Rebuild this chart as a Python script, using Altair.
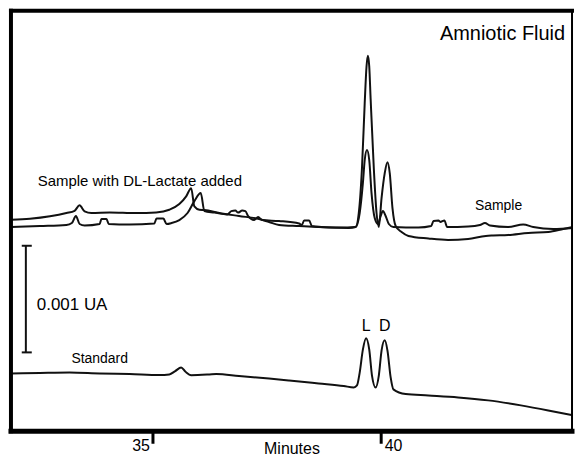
import altair as alt
import pandas as pd

# ---- Data (time in minutes, absorbance in mAU) ----
# Sample with DL-Lactate added
spiked_time = [31.90, 32.31, 32.75, 33.11, 33.29, 33.40, 33.51, 33.66, 34.06, 34.64,
               35.08, 35.37, 35.59, 35.74, 35.85, 35.92, 36.03, 36.14, 36.47, 36.90,
               37.34, 37.56, 37.78, 38.22, 38.65, 39.09, 39.46, 39.53, 39.60, 39.66,
               39.70, 39.73, 39.76, 39.79, 39.86, 39.92, 39.97, 40.03, 40.10, 40.16,
               40.21, 40.27, 40.34, 40.47, 40.62, 41.06, 41.49, 41.93, 42.32, 42.48,
               42.81, 43.25, 43.69, 44.02, 44.23]
spiked_abs = [1.984, 1.993, 2.016, 2.047, 2.068, 2.119, 2.063, 2.047, 2.053, 2.047,
              2.053, 2.078, 2.131, 2.203, 2.280, 2.109, 2.078, 2.075, 2.047, 2.019,
              1.991, 1.963, 1.935, 1.925, 1.916, 1.911, 1.916, 2.047, 2.467, 3.075,
              3.421, 3.521, 3.421, 3.121, 2.467, 2.047, 1.916, 2.187, 2.421, 2.523,
              2.421, 2.093, 1.925, 1.869, 1.832, 1.808, 1.794, 1.804, 1.832, 1.836,
              1.841, 1.860, 1.869, 1.897, 1.916]

# Sample
sample_time = [31.90, 32.53, 33.11, 33.23, 33.32, 33.40, 33.51, 33.84, 33.88, 33.99,
               34.04, 34.50, 35.04, 35.09, 35.24, 35.31, 35.42, 35.59, 35.77, 35.92,
               36.06, 36.14, 36.36, 36.64, 36.73, 36.82, 36.88, 36.97, 37.04, 37.10,
               37.23, 37.32, 37.41, 37.78, 38.22, 38.28, 38.33, 38.44, 38.50, 38.87,
               39.31, 39.46, 39.55, 39.62, 39.66, 39.71, 39.76, 39.81, 39.88, 39.95,
               40.01, 40.06, 40.12, 40.19, 40.29, 40.84, 41.12, 41.17, 41.28, 41.32,
               41.41, 41.47, 41.93, 42.19, 42.30, 42.41, 42.81, 43.14, 43.36, 43.80,
               44.23]
sample_abs = [1.916, 1.925, 1.935, 1.953, 2.019, 1.944, 1.930, 1.944, 1.991, 1.991,
              1.944, 1.939, 1.949, 1.995, 1.995, 1.944, 1.953, 1.981, 2.047, 2.159,
              2.234, 2.065, 2.051, 2.033, 2.065, 2.070, 2.051, 2.070, 2.065, 2.019,
              1.981, 2.009, 1.981, 1.972, 1.949, 1.935, 1.977, 1.977, 1.925, 1.911,
              1.907, 1.916, 2.047, 2.327, 2.542, 2.638, 2.542, 2.234, 2.000, 1.944,
              2.019, 2.065, 2.019, 1.944, 1.916, 1.911, 1.925, 1.972, 1.977, 1.963,
              1.977, 1.916, 1.921, 1.935, 1.953, 1.930, 1.916, 1.939, 1.916, 1.897,
              1.907]

# Standard
standard_time = [31.90, 32.53, 33.18, 33.84, 34.50, 35.15, 35.37, 35.50, 35.63, 35.72,
                 35.85, 36.25, 36.40, 36.90, 37.56, 38.00, 38.65, 39.20, 39.42, 39.49,
                 39.55, 39.62, 39.69, 39.76, 39.82, 39.90, 39.97, 40.03, 40.10, 40.16,
                 40.23, 40.29, 40.56, 41.06, 41.71, 42.37, 43.09, 43.69, 44.23]
standard_abs = [0.542, 0.547, 0.551, 0.542, 0.537, 0.528, 0.533, 0.565, 0.598, 0.561,
                0.526, 0.533, 0.537, 0.519, 0.495, 0.477, 0.449, 0.425, 0.411, 0.430,
                0.551, 0.766, 0.872, 0.766, 0.523, 0.411, 0.523, 0.757, 0.853, 0.757,
                0.505, 0.393, 0.349, 0.336, 0.318, 0.290, 0.243, 0.196, 0.150]

# Scale bar: 0.001 AU = 1 mAU
bar_time = 32.22
bar_cap = [32.13, 32.35]
bar_low = 0.74
bar_high = 1.74

# Annotations
label_text = ["Sample with DL-Lactate added", "Sample", "Standard", "0.001 UA"]
label_time = [32.48, 42.08, 33.22, 32.46]
label_abs = [2.296, 2.078, 0.636, 1.140]
label_size = [15, 14, 14, 17]

peak_text = ["L", "D"]
peak_time = [39.69, 40.10]
peak_abs = [0.944, 0.944]

title_text = ["Amniotic Fluid"]
title_time = [44.06]
title_abs = [3.666]

# ---- Tables ----
traces = pd.concat([
    pd.DataFrame({"trace": "Sample with DL-Lactate added", "time": spiked_time, "abs": spiked_abs}),
    pd.DataFrame({"trace": "Sample", "time": sample_time, "abs": sample_abs}),
    pd.DataFrame({"trace": "Standard", "time": standard_time, "abs": standard_abs}),
], ignore_index=True)

bar_df = pd.DataFrame({"time": [bar_time], "low": [bar_low], "high": [bar_high]})
cap_df = pd.DataFrame({"t1": [bar_cap[0], bar_cap[0]], "t2": [bar_cap[1], bar_cap[1]],
                       "y": [bar_low, bar_high]})
labels_df = pd.DataFrame({"label": label_text, "time": label_time, "abs": label_abs, "size": label_size})
peaks_df = pd.DataFrame({"label": peak_text, "time": peak_time, "abs": peak_abs})
title_df = pd.DataFrame({"label": title_text, "time": title_time, "abs": title_abs})
one = pd.DataFrame({"k": [0]})

FONT = "Liberation Sans"
W, H = 563, 422
INK = "#111111"
x_scale = alt.Scale(domain=[31.893, 44.212], nice=False, zero=False)
y_scale = alt.Scale(domain=[0, 3.944], nice=False, zero=False)

x_axis = alt.Axis(
    values=[35, 40], title="Minutes", domain=False, grid=False,
    ticks=True, tickSize=12, tickWidth=3, tickColor="black",
    labelFontSize=16, labelFont=FONT, labelColor="black", labelPadding=-5.5,
    labelAlign={"expr": "datum.value == 35 ? 'right' : 'left'"},
    labelOffset={"expr": "datum.value == 35 ? -3 : 4"},
    labelOverlap=False, labelFlush=False,
    titleFontSize=16, titleFont=FONT, titleFontWeight="normal", titleColor="black",
    titleBaseline="alphabetic", titleY=22,
)

lines = alt.Chart(traces).mark_line(
    color=INK, strokeWidth=2, interpolate="monotone", clip=True
).encode(
    x=alt.X("time:Q", scale=x_scale, axis=x_axis),
    y=alt.Y("abs:Q", scale=y_scale, axis=None),
    detail="trace:N",
)

bar = alt.Chart(bar_df).mark_rule(color=INK, strokeWidth=2).encode(
    x=alt.X("time:Q", scale=x_scale),
    y=alt.Y("low:Q", scale=y_scale),
    y2="high:Q",
)
caps = alt.Chart(cap_df).mark_rule(color=INK, strokeWidth=2).encode(
    x=alt.X("t1:Q", scale=x_scale),
    x2="t2:Q",
    y=alt.Y("y:Q", scale=y_scale),
)

labels = alt.Chart(labels_df).mark_text(
    align="left", baseline="alphabetic", font=FONT, color="black"
).encode(
    x=alt.X("time:Q", scale=x_scale),
    y=alt.Y("abs:Q", scale=y_scale),
    text="label:N",
    size=alt.Size("size:Q", scale=None, legend=None),
)
peaks = alt.Chart(peaks_df).mark_text(
    align="center", baseline="alphabetic", font=FONT, fontSize=16, color="black"
).encode(
    x=alt.X("time:Q", scale=x_scale),
    y=alt.Y("abs:Q", scale=y_scale),
    text="label:N",
)
title = alt.Chart(title_df).mark_text(
    align="right", baseline="alphabetic", font=FONT, fontSize=20, color="black"
).encode(
    x=alt.X("time:Q", scale=x_scale),
    y=alt.Y("abs:Q", scale=y_scale),
    text="label:N",
)

# Frame of the plot area (decoration)
frame_left = alt.Chart(one).mark_rule(color="black", strokeWidth=4, strokeCap="square").encode(
    x=alt.value(0), y=alt.value(0), y2=alt.value(H))
frame_top = alt.Chart(one).mark_rule(color="black", strokeWidth=4, strokeCap="square").encode(
    x=alt.value(0), x2=alt.value(W), y=alt.value(0))
frame_bottom = alt.Chart(one).mark_rule(color="black", strokeWidth=5, strokeCap="square").encode(
    x=alt.value(0), x2=alt.value(W), y=alt.value(H))
frame_right = alt.Chart(one).mark_rule(color="black", strokeWidth=2).encode(
    x=alt.value(W), y=alt.value(0), y2=alt.value(H))

chart = alt.layer(lines, bar, caps, labels, peaks, title,
                  frame_left, frame_top, frame_bottom, frame_right).properties(
    width=W, height=H,
    padding={"left": 7, "top": 7, "right": 0, "bottom": 0},
    background="white",
).configure_view(stroke=None)

chart.save("out.html", embed_options={"renderer": "svg", "actions": False})
